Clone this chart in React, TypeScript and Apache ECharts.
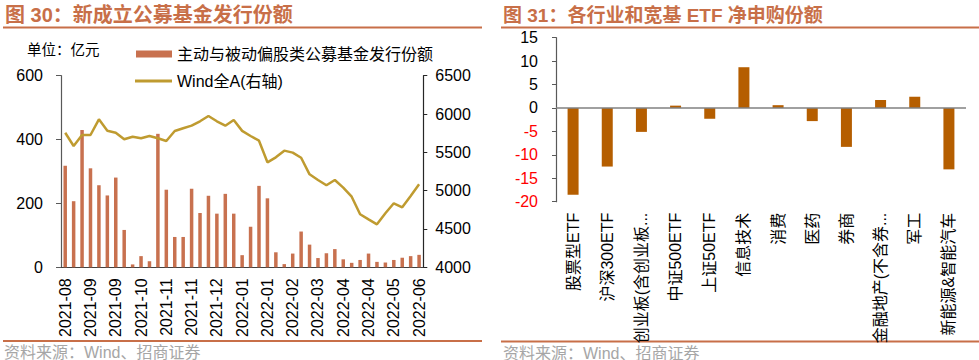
import React, { useEffect, useRef } from "react";
import * as echarts from "echarts";

// ---- Left chart data (weekly) ----
const weekDates = [
  "2021-08-13", "2021-08-20", "2021-08-27", "2021-09-03", "2021-09-10", "2021-09-17", "2021-09-24",
  "2021-09-30", "2021-10-08", "2021-10-15", "2021-10-22", "2021-10-29", "2021-11-05", "2021-11-12",
  "2021-11-19", "2021-11-26", "2021-12-03", "2021-12-10", "2021-12-17", "2021-12-24", "2021-12-31",
  "2022-01-07", "2022-01-14", "2022-01-21", "2022-01-28", "2022-02-11", "2022-02-18", "2022-02-25",
  "2022-03-04", "2022-03-11", "2022-03-18", "2022-03-25", "2022-04-01", "2022-04-08", "2022-04-15",
  "2022-04-22", "2022-04-29", "2022-05-06", "2022-05-13", "2022-05-20", "2022-05-27", "2022-06-02",
  "2022-06-10",
];
const fundIssuance = [
  318, 207, 430, 310, 257, 225, 281, 117, 9, 35, 19, 418, 243, 95, 95, 246, 170, 224, 168, 230, 168,
  38, 127, 255, 216, 47, 10, 43, 112, 71, 29, 44, 57, 25, 14, 23, 43, 17, 15, 23, 30, 35, 39,
];
const windAllA = [
  5756, 5583, 5726, 5726, 5931, 5782, 5756, 5670, 5704, 5683, 5713, 5683, 5648, 5778, 5814, 5848,
  5905, 5974, 5905, 5848, 5922, 5780, 5713, 5652, 5370, 5435, 5522, 5496, 5430, 5213, 5139, 5070,
  5139, 5039, 4921, 4692, 4626, 4561, 4705, 4835, 4783, 4930, 5083,
];
const barName = "主动与被动偏股类公募基金发行份额";
const lineName = "Wind全A(右轴)";

// ---- Right chart data ----
const etfCategories = [
  "股票型ETF", "沪深300ETF", "创业板(含创业板...", "中证500ETF", "上证50ETF", "信息技术",
  "消费", "医药", "券商", "金融地产(不含券...", "军工", "新能源&智能汽车",
];
const etfNetSubscription = [-18.5, -12.5, -5.1, 0.5, -2.3, 8.7, 0.6, -2.8, -8.3, 1.7, 2.4, -13.1];

const FONT = "Arial, 'Liberation Sans', 'Noto Sans CJK SC', sans-serif";
const ORANGE = "#C86F48";
const BAR_LEFT = "#C8714F";
const GOLD = "#BF9B30";
const BAR_RIGHT = "#B55E00";

export default function App() {
  const ref = useRef<HTMLDivElement>(null);
  useEffect(() => {
    if (!ref.current) return;
    const chart = echarts.init(ref.current, null, { renderer: "svg" });
    const plain = (v: any) => String(v);
    const option: any = {
      animation: false,
      backgroundColor: "#ffffff",
      textStyle: { fontFamily: FONT },
      graphic: [
        { type: "text", x: 5, y: 15, style: { text: "图 30：新成立公募基金发行份额", font: `bold 20px ${FONT}`, fill: ORANGE, verticalAlign: "middle" } },
        { type: "line", shape: { x1: 3, y1: 27.5, x2: 482, y2: 27.5 }, style: { stroke: ORANGE, lineWidth: 2 } },
        { type: "text", x: 27, y: 50, style: { text: "单位：亿元", font: `14.5px ${FONT}`, fill: "#000", verticalAlign: "middle" } },
        { type: "line", shape: { x1: 3, y1: 341, x2: 482, y2: 341 }, style: { stroke: ORANGE, lineWidth: 2 } },
        { type: "text", x: 4, y: 352, style: { text: "资料来源：Wind、招商证券", font: `16px ${FONT}`, fill: "#A6A6A6", verticalAlign: "middle" } },

        { type: "text", x: 503, y: 15, style: { text: "图 31：各行业和宽基 ETF 净申购份额", font: `bold 19px ${FONT}`, fill: ORANGE, verticalAlign: "middle" } },
        { type: "line", shape: { x1: 501, y1: 27.5, x2: 979, y2: 27.5 }, style: { stroke: ORANGE, lineWidth: 2 } },
        { type: "line", shape: { x1: 501, y1: 341.5, x2: 979, y2: 341.5 }, style: { stroke: ORANGE, lineWidth: 2 } },
        { type: "text", x: 503, y: 353, style: { text: "资料来源：Wind、招商证券", font: `16px ${FONT}`, fill: "#A6A6A6", verticalAlign: "middle" } },
      ],
      legend: [
        {
          data: [{ name: barName, icon: "rect" }],
          left: 131, top: 41, itemWidth: 36, itemHeight: 7, itemGap: 5,
          textStyle: { fontSize: 16, color: "#000", fontFamily: FONT },
        },
        {
          data: [{ name: lineName, icon: "rect" }],
          left: 130, top: 68, itemWidth: 37, itemHeight: 3,
          textStyle: { fontSize: 16, color: "#000", fontFamily: FONT },
        },
      ],
      grid: [
        { left: 61, right: 979 - 423.3, top: 75.7, bottom: 360 - 267.3, containLabel: false },
        { left: 556, right: 13, top: 37.7, bottom: 360 - 201.7, containLabel: false },
      ],
      xAxis: [
        {
          type: "category", gridIndex: 0, data: weekDates, boundaryGap: true,
          axisLine: { show: true, lineStyle: { color: "#404040", width: 1.2 } },
          axisTick: { show: false },
          axisLabel: {
            interval: 2, rotate: 90, margin: 11, fontSize: 16, color: "#000", fontFamily: FONT,
            formatter: (v: string) => v.slice(0, 7),
          },
        },
        {
          type: "category", gridIndex: 1, data: etfCategories, boundaryGap: true,
          axisLine: { show: false, onZero: false },
          axisTick: { show: false },
          axisLabel: { interval: 0, rotate: 90, margin: 11, fontSize: 16, color: "#000", fontFamily: FONT },
        },
      ],
      yAxis: [
        {
          type: "value", gridIndex: 0, min: 0, max: 600, interval: 200,
          axisLine: { show: true, lineStyle: { color: "#595959", width: 1.2 } },
          axisTick: { show: true, length: 5, lineStyle: { color: "#595959" } },
          axisLabel: { margin: 18, fontSize: 16, color: "#000", fontFamily: FONT, formatter: plain },
          splitLine: { show: false },
        },
        {
          type: "value", gridIndex: 0, position: "right", min: 4000, max: 6500, interval: 500,
          axisLine: { show: true, lineStyle: { color: "#262626", width: 1.2 } },
          axisTick: { show: true, length: 4, lineStyle: { color: "#262626" } },
          axisLabel: { margin: 12, fontSize: 16, color: "#000", fontFamily: FONT, formatter: plain },
          splitLine: { show: false },
        },
        {
          type: "value", gridIndex: 1, min: -20, max: 15, interval: 5,
          axisLine: { show: true, lineStyle: { color: "#595959", width: 1.2 } },
          axisTick: { show: true, length: 4, lineStyle: { color: "#595959" } },
          axisLabel: {
            margin: 18, fontSize: 16, fontFamily: FONT, formatter: plain,
            color: (val: any) => (Number(val) < 0 ? "#FF0000" : "#000000"),
          },
          splitLine: { show: false },
        },
      ],
      series: [
        {
          name: barName, type: "bar", xAxisIndex: 0, yAxisIndex: 0, data: fundIssuance,
          barWidth: 3.5, itemStyle: { color: BAR_LEFT },
        },
        {
          name: lineName, type: "line", xAxisIndex: 0, yAxisIndex: 1, data: windAllA,
          symbol: "none", showSymbol: false, smooth: false,
          lineStyle: { color: GOLD, width: 2.5 }, itemStyle: { color: GOLD },
        },
        {
          name: "ETF净申购份额", type: "bar", xAxisIndex: 1, yAxisIndex: 2, data: etfNetSubscription,
          barWidth: 11, itemStyle: { color: BAR_RIGHT },
          markLine: {
            silent: true, symbol: ["none", "none"], label: { show: false },
            lineStyle: { color: "#808080", width: 1.5, type: "solid" },
            data: [{ yAxis: 0 }],
          },
        },
      ],
    };
    chart.setOption(option);
    return () => chart.dispose();
  }, []);
  return (
    <div
      ref={ref}
      style={{ position: "fixed", left: 0, top: 0, width: 979, height: 360, background: "#fff" }}
    />
  );
}
